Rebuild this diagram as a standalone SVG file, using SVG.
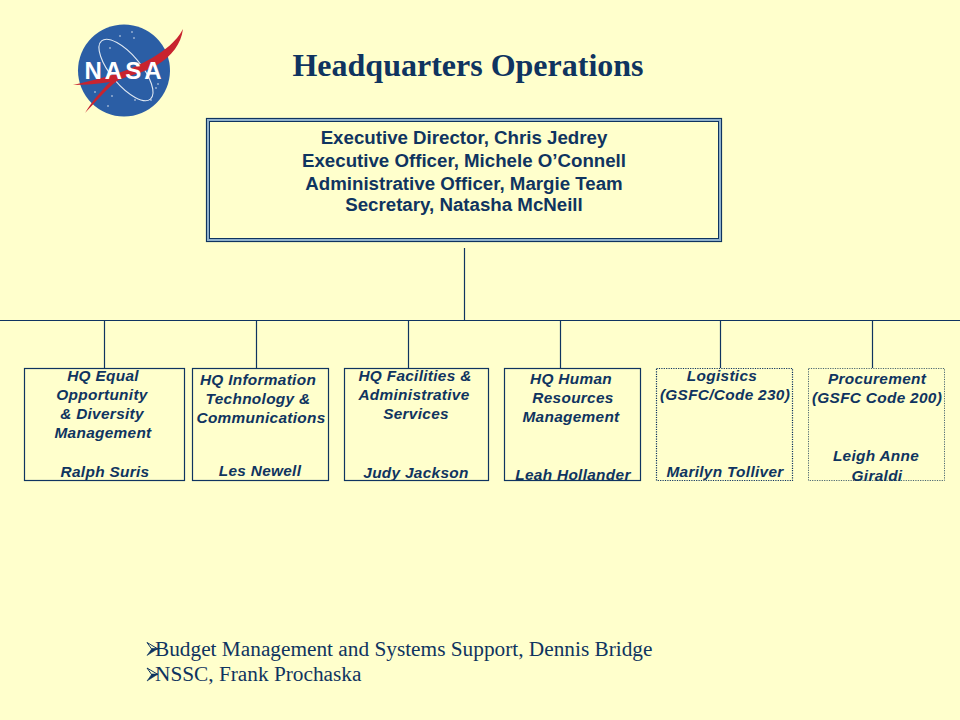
<svg xmlns="http://www.w3.org/2000/svg" width="960" height="720" viewBox="0 0 960 720">
<style>
.c{stroke:#0f3460;stroke-width:1.2;fill:none}
.b{fill:#ffffcc;stroke:#0f3460;stroke-width:1.2}
.d{fill:#ffffcc;stroke:#0f3460;stroke-width:1.2;stroke-dasharray:1.2 1.2}
.e{fill:#ffffcc;stroke:#4a6670;stroke-width:1;stroke-dasharray:1.2 1.2}
text{fill:#0f3460;font-family:"Liberation Sans",Arial,sans-serif;text-anchor:middle}
.t{font-size:15.4px;font-weight:700;font-style:italic;letter-spacing:.3px}
.h{font-size:18.7px;font-weight:700}
.s{font-family:"Liberation Serif","Times New Roman",serif;font-size:21.3px;text-anchor:start}
</style>
<defs>
<g id="arrowBullet">
<path d="M0 -6.500L11 0L5 0.500Z" fill="none" stroke="#0f3460" stroke-width="1"/>
<path d="M0 6.500L11 -0.500L5 -0.500Z" fill="#0f3460" stroke="#0f3460" stroke-width=".6"/>
</g>
</defs>
<rect width="960" height="720" fill="#ffffcc"/>
<g id="logo">
<circle cx="124" cy="70.500" r="46" fill="#2b5ea5"/>
<ellipse cx="126" cy="70" rx="15" ry="38" fill="none" stroke="#dfe8f2" stroke-width="1.1" transform="rotate(-40 126 70)"/>
<g fill="#dfe8f2"><circle cx="120" cy="36" r=".8"/><circle cx="132" cy="32" r=".8"/><circle cx="134" cy="38" r=".8"/><circle cx="110" cy="48" r=".8"/><circle cx="156" cy="88" r=".8"/><circle cx="158" cy="84" r=".8"/><circle cx="151" cy="100" r=".8"/><circle cx="108" cy="106" r=".8"/><circle cx="95" cy="92" r=".8"/><circle cx="135" cy="100" r=".8"/><circle cx="112" cy="96" r=".8"/></g>
<path d="M73 85C105 78 132 70 152 58C165 50 176 42 183 29C181 44 172 56 157 65C142 74 125 76 117 81C105 90 95 103 85 113C93 100 102 90 110 82C98 84 85 85 73 85Z" fill="#c8242f"/>
<text x="124.500" y="79" style="font-size:24px;font-weight:700;fill:#fff;letter-spacing:3px">NASA</text>
</g>
<g id="title"><text x="468" y="76" style="font-family:'Liberation Serif','Times New Roman',serif;font-size:32px;font-weight:700">Headquarters Operations</text></g>
<g id="connectors">
<path class="c" d="M464.500 248V320.500M0 320.500H960M104.500 320.500V368M256.500 320.500V368M408.500 320.500V368M560.500 320.500V368M720.500 320.500V368M872.500 320.500V368"/>
</g>
<g id="exec">
<rect x="206.500" y="118.500" width="515" height="123" fill="#ffffcc" stroke="#0f3460" stroke-width="1.2"/>
<rect x="208" y="120" width="512" height="120" fill="none" stroke="#8fb0cc" stroke-width="2"/>
<rect x="209.500" y="121.500" width="509" height="117" fill="none" stroke="#0f3460" stroke-width="1"/>
<text class="h" x="464" y="144">Executive Director, Chris Jedrey</text>
<text class="h" x="464" y="167">Executive Officer, Michele O’Connell</text>
<text class="h" x="464" y="190">Administrative Officer, Margie Team</text>
<text class="h" x="464" y="211">Secretary, Natasha McNeill</text>
</g>
<g id="eeo">
<rect class="b" x="24.500" y="368.500" width="160" height="112"/>
<text class="t" x="103" y="381">HQ Equal</text>
<text class="t" x="102" y="400">Opportunity</text>
<text class="t" x="102" y="419">&amp; Diversity</text>
<text class="t" x="103" y="438">Management</text>
<text class="t" x="105" y="477">Ralph Suris</text>
</g>
<g id="it">
<rect class="b" x="192.500" y="368.500" width="136" height="112"/>
<text class="t" x="258" y="385">HQ Information</text>
<text class="t" x="258" y="404">Technology &amp;</text>
<text class="t" x="261" y="423">Communications</text>
<text class="t" x="260" y="476">Les Newell</text>
</g>
<g id="facilities">
<rect class="b" x="344.500" y="368.500" width="144" height="112"/>
<text class="t" x="415" y="381">HQ Facilities &amp;</text>
<text class="t" x="414" y="400">Administrative</text>
<text class="t" x="416" y="419">Services</text>
<text class="t" x="416" y="478">Judy Jackson</text>
</g>
<g id="hr">
<rect class="b" x="504.500" y="368.500" width="136" height="112"/>
<text class="t" x="571" y="384">HQ Human</text>
<text class="t" x="573" y="403">Resources</text>
<text class="t" x="571" y="422">Management</text>
<text class="t" x="573" y="480">Leah Hollander</text>
</g>
<g id="logistics">
<rect class="d" x="656.500" y="368.500" width="136" height="112"/>
<text class="t" x="722" y="381">Logistics</text>
<text class="t" x="725" y="400">(GSFC/Code 230)</text>
<text class="t" x="725" y="477">Marilyn Tolliver</text>
</g>
<g id="procurement">
<rect class="e" x="808.500" y="368.500" width="136" height="112"/>
<text class="t" x="877" y="384">Procurement</text>
<text class="t" x="877" y="403">(GSFC Code 200)</text>
<text class="t" x="876" y="461">Leigh Anne</text>
<text class="t" x="877" y="481">Giraldi</text>
</g>
<g id="notes">
<use href="#arrowBullet" x="147" y="649"/>
<text class="s" x="155" y="656">Budget Management and Systems Support, Dennis Bridge</text>
<use href="#arrowBullet" x="147" y="674.500"/>
<text class="s" x="155" y="681">NSSC, Frank Prochaska</text>
</g>
</svg>
